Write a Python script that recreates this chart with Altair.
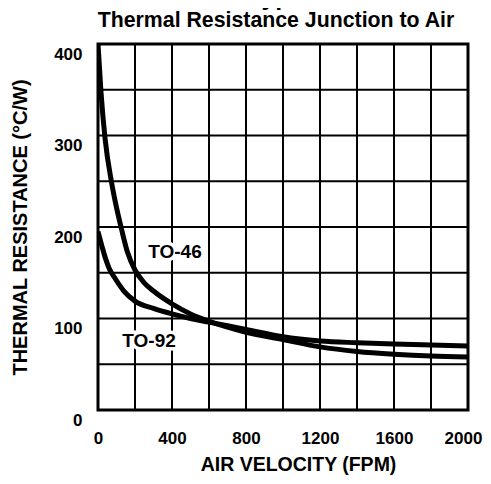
import altair as alt
import pandas as pd

# Curve values
velocity_46 = [0, 16, 38, 74, 92, 128, 160, 200, 250, 300, 400, 500, 600, 800, 1000, 1200, 1400, 1600, 1800, 2000]
resist_46 = [400, 348, 297, 248, 229, 197, 172, 153, 139, 130, 116, 105, 97, 85, 77, 69, 64, 61, 59, 58]

velocity_92 = [0, 20, 40, 60, 92, 140, 200, 300, 400, 500, 600, 800, 1000, 1200, 1400, 1600, 1800, 2000]
resist_92 = [195, 180, 166, 155, 144, 130, 119, 111, 105, 100, 96, 88, 80, 75.5, 73.5, 72, 71, 70]

label_text = ["TO-46", "TO-92"]
label_x = [416, 276]
label_y = [173, 75]

x_ticks = list(range(0, 2001, 200))
y_ticks = list(range(0, 401, 50))

main_title_text = "Typical Performance Characteristics"
sub_title_text = "Thermal Resistance Junction to Air"

FONT = "Liberation Sans, Arial, Helvetica, sans-serif"

df = pd.concat([
    pd.DataFrame({"v": velocity_46, "r": resist_46, "pkg": "TO-46"}),
    pd.DataFrame({"v": velocity_92, "r": resist_92, "pkg": "TO-92"}),
])
labels = pd.DataFrame({"t": label_text, "v": label_x, "r": label_y})
xgrid = pd.DataFrame({"v": x_ticks})
ygrid = pd.DataFrame({"r": y_ticks})

xscale = alt.Scale(domain=[0, 2000], nice=False)
yscale = alt.Scale(domain=[0, 400], nice=False)

xaxis = alt.Axis(values=x_ticks, title="AIR VELOCITY (FPM)",
                 labelExpr="datum.value % 400 == 0 ? datum.label : ''",
                 format="d", labelFont=FONT, labelFontSize=17, labelFontWeight="bold",
                 labelColor="black", labelPadding=20, ticks=False, tickSize=0, domain=False,
                 labelOffset={"condition": {"test": "datum.value == 2000", "value": -5}, "value": 0},
                 grid=False,
                 titleFont=FONT, titleFontSize=19.5, titleFontWeight="bold", titleColor="black",
                 titlePadding=9, titleX=200, titleAlign="center", labelFlush=False)
yaxis = alt.Axis(values=y_ticks, title="THERMAL RESISTANCE (°C/W)",
                 labelExpr="datum.value % 100 == 0 ? datum.label : ''",
                 format="d", labelFont=FONT, labelFontSize=17, labelFontWeight="bold",
                 labelColor="black", labelPadding=16, labelBaseline="middle", labelOffset=10,
                 ticks=False, tickSize=0, domain=False, grid=False,
                 titleFont=FONT, titleFontSize=20, titleFontWeight="bold", titleColor="black",
                 titlePadding=23, labelFlush=False)

vrules = alt.Chart(xgrid).mark_rule(color="black", strokeWidth=2).encode(
    x=alt.X("v:Q", scale=xscale, axis=xaxis))
hrules = alt.Chart(ygrid).mark_rule(color="black", strokeWidth=2).encode(
    y=alt.Y("r:Q", scale=yscale, axis=yaxis))

lines = alt.Chart(df).mark_line(color="black", strokeWidth=5, interpolate="monotone", clip=True).encode(
    x=alt.X("v:Q", scale=xscale),
    y=alt.Y("r:Q", scale=yscale),
    detail="pkg:N",
)

halo = alt.Chart(labels).mark_text(font=FONT, fontSize=19, fontWeight="bold", color="white",
                                   stroke="white", strokeWidth=7).encode(
    x=alt.X("v:Q", scale=xscale), y=alt.Y("r:Q", scale=yscale), text="t:N")
txt = alt.Chart(labels).mark_text(font=FONT, fontSize=19, fontWeight="bold", color="black").encode(
    x=alt.X("v:Q", scale=xscale), y=alt.Y("r:Q", scale=yscale), text="t:N")

main_title = alt.Chart(pd.DataFrame({"t": [main_title_text]})).mark_text(
    font=FONT, fontSize=25, fontWeight="bold", color="black",
    align="left", baseline="alphabetic").encode(
    x=alt.value(150), y=alt.value(-39), text="t:N")
sub_title = alt.Chart(pd.DataFrame({"t": [sub_title_text]})).mark_text(
    font=FONT, fontSize=21.3, fontWeight="bold", color="black",
    align="center", baseline="alphabetic").encode(
    x=alt.value(178), y=alt.value(-17), text="t:N")

chart = alt.layer(vrules, hrules, halo, lines, txt, main_title, sub_title).properties(
    width=370, height=366,
    autosize=alt.AutoSizeParams(type="none"),
    padding={"left": 90, "top": 36, "right": 15, "bottom": 66},
).configure_view(stroke="black", strokeWidth=3)

chart.save("out.html", embed_options={"renderer": "svg", "actions": False})
